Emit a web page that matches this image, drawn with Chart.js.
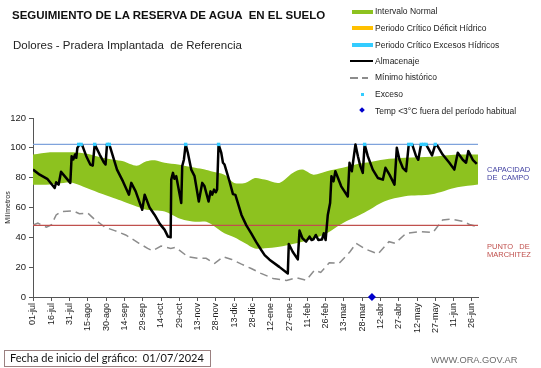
<!DOCTYPE html>
<html>
<head>
<meta charset="utf-8">
<script src="https://cdn.jsdelivr.net/npm/chart.js@4"></script>
<style>
  body { margin: 0; background: #fff; font-family: "Liberation Sans", Arial, sans-serif; }
  #wrap { position: relative; width: 541px; height: 368px; overflow: hidden; }
  #chart { position: absolute; left: 0; top: 0; }
  .txt { position: absolute; white-space: pre; color: #111; }
  .leg { position: absolute; left: 375px; font-size: 8.5px; color: #222; white-space: pre; line-height: 10px; }
  .sym { position: absolute; }
</style>
</head>
<body>
<div id="wrap">
  <canvas id="chart" width="541" height="368"></canvas>

  <div class="txt" style="left:12px; top:9px; font-size:11.5px; font-weight:bold;">SEGUIMIENTO DE LA RESERVA DE AGUA  EN EL SUELO</div>
  <div class="txt" style="left:13px; top:39px; font-size:11.5px; color:#222;">Dolores - Pradera Implantada  de Referencia</div>

  <!-- leyenda -->
  <div class="sym" style="left:352px; top:10px; width:21px; height:4px; background:#8dc21f;"></div>
  <div class="leg" style="top:6px;">Intervalo Normal</div>
  <div class="sym" style="left:352px; top:26px; width:21px; height:4px; background:#ffc000;"></div>
  <div class="leg" style="top:23px;">Periodo Crítico Déficit Hídrico</div>
  <div class="sym" style="left:352px; top:43px; width:21px; height:4px; background:#33ccff;"></div>
  <div class="leg" style="top:40px;">Periodo Crítico Excesos Hídricos</div>
  <div class="sym" style="left:350px; top:60px; width:23px; height:2px; background:#000;"></div>
  <div class="leg" style="top:56px;">Almacenaje</div>
  <div class="sym" style="left:350px; top:77px; width:8px; height:1.5px; background:#8c8c8c;"></div>
  <div class="sym" style="left:362px; top:77px; width:6px; height:1.5px; background:#8c8c8c;"></div>
  <div class="leg" style="top:72px;">Mínimo histórico</div>
  <div class="sym" style="left:361px; top:93px; width:3px; height:3px; background:#33ccff;"></div>
  <div class="leg" style="top:89px;">Exceso</div>
  <div class="sym" style="left:360px; top:108px; width:4px; height:4px; background:#0000cc; transform:rotate(45deg);"></div>
  <div class="leg" style="top:106px;">Temp &lt;3°C fuera del período habitual</div>

  <!-- etiquetas de la derecha -->
  <div class="txt" style="left:487px; top:166px; font-size:7.5px; line-height:8px; color:#3f3fa0;">CAPACIDAD
DE  CAMPO</div>
  <div class="txt" style="left:487px; top:243px; font-size:7.5px; line-height:8px; color:#c0504d;">PUNTO   DE
MARCHITEZ</div>

  <div class="txt" style="left:4px; top:350px; width:207px; height:17px; border:1px solid #9a8080; box-sizing:border-box;"></div>
  <div class="txt" style="left:10px; top:351px; font-size:11px; font-family:Lato, 'Open Sans', sans-serif; color:#111;">Fecha de inicio del gráfico:  01/07/2024</div>
  <div class="txt" style="left:431px; top:355px; font-size:9.3px; color:#6b6b6b;">WWW.ORA.GOV.AR</div>
</div>

<script>
// eje x: días desde 01-jul
const tickDays = [0, 15, 30, 45, 60, 75, 90, 105, 120, 135, 150, 165, 180, 195, 210, 225, 240, 255, 270, 285, 300, 315, 330, 345, 360];
const tickLabels = ['01-jul', '16-jul', '31-jul', '15-ago', '30-ago', '14-sep', '29-sep', '14-oct', '29-oct', '13-nov',
  '28-nov', '13-dic', '28-dic', '12-ene', '27-ene', '11-feb', '26-feb', '13-mar', '28-mar', '12-abr',
  '27-abr', '12-may', '27-may', '11-jun', '26-jun'];

// intervalo normal (banda verde)
const bandDays = [0, 14, 25, 33, 44, 57, 66, 74, 85, 93, 100, 108, 119, 124, 133, 141, 146, 157, 165, 174, 182, 190, 202, 213, 221, 230, 241, 254, 268, 276, 288, 305, 327, 348, 365];
const bandUpper = [95.5, 97, 97, 97, 96, 93.3, 92, 91, 88, 91, 91.7, 90, 88.8, 88, 86.6, 85.5, 84.3, 82, 76.5, 76.5, 79.8, 78.7, 76.5, 83.2, 85.4, 82, 84.3, 86.6, 89.5, 90.4, 92.2, 93.3, 94, 95.5, 95.5];
const bandLower = [75.3, 75.5, 76.5, 76.5, 73.1, 69, 66.3, 64, 60.7, 58.5, 58, 57.3, 53, 51.7, 50.5, 50.6, 49, 42.7, 40, 36, 32.5, 32.6, 33.7, 35.5, 37.1, 39, 42.7, 49.5, 55, 58.5, 64, 67.5, 68.8, 73.5, 75.5];

// mínimo histórico
const minDays = [0, 4, 11, 15, 19, 23, 33, 38, 45, 51, 59, 67, 76, 87, 94, 98, 105, 113, 117, 127, 135, 142, 149, 156, 163, 171, 179, 187, 197, 208, 216, 224, 231, 236, 243, 251, 260, 265, 273, 283, 292, 297, 306, 317, 328, 336, 343, 353, 358, 362, 365];
const minVals = [48.3, 49.5, 46.8, 48.3, 55, 57.3, 57.8, 55.8, 56.2, 51.7, 46.8, 44.5, 41.6, 36, 32.6, 31, 34.2, 32.6, 33.3, 27, 25.9, 25.9, 22.5, 27, 25.2, 22, 19.1, 15.8, 12.4, 11, 13, 11.2, 18, 16.5, 23, 22.5, 30.3, 36, 32, 28.8, 37.1, 36, 42.7, 43.8, 43.2, 51.7, 52.2, 50.6, 48.6, 47.7, 49];

// almacenaje
const storDays = [0, 5.5, 12, 17.8, 19, 21, 23, 27, 30.6, 31.7, 33, 34.5, 35.5, 36.4, 38.3, 40.5, 43.7, 47, 49, 50.6,
  54.7, 58, 59.5, 60.7, 62.6, 68.9, 73.8, 78.7, 80.6, 84.2, 89.6, 91.6, 95.6, 99.8, 104, 108, 110.7, 112.9, 113.4, 114.8,
  116, 117.5, 121.6, 122.4, 123.8, 125.2, 127, 129.8, 132.5, 136, 138.8, 140.7, 144, 145.6, 147, 148.5, 150, 151, 152.2, 154.4,
  155.8, 157.1, 161.2, 164, 166, 171, 175, 179, 183, 187.2, 190, 194, 202, 209, 209.8, 213, 217.2, 218.6, 221, 224,
  226.8, 228.5, 230, 232, 234, 237, 238.5, 240, 241.8, 243.7, 244.8, 246.5, 248, 252.8, 258.2, 259.6, 261.5, 264.5, 266.5, 268.5,
  270.5, 272, 274.6, 278.7, 282.8, 287, 289.1, 292.4, 296.5, 298.4, 300.6, 303.3, 306, 308.2, 311, 314.2, 316, 318.3, 322.4, 327.3,
  330, 332, 336, 341.5, 345.6, 348.4, 352.5, 355.2, 357.1, 360.7, 364];
const storVals = [85.4, 82, 79, 73.1, 76.9, 75.3, 83.9, 80, 76.5, 94.4, 92.2, 95.5, 93.3, 100, 102.3, 101.5, 94.4, 88.8, 88.1, 102.3,
  95.5, 90.4, 88.8, 102.3, 102.3, 85.4, 77.5, 68.6, 76.5, 70.8, 58.5, 68.6, 60, 55, 49, 45, 40.5, 40, 78.7, 83.2,
  79.3, 81, 63, 87.7, 92.2, 102.3, 96.7, 85.4, 81, 64, 76.5, 74.2, 64, 70.8, 68.6, 72, 70.2, 72, 102.3, 96.7,
  90, 88.8, 77.5, 69, 68.5, 55, 48, 42.7, 37, 31.5, 28.1, 25, 20.2, 15.8, 35.5, 30.3, 25.2, 44.5, 39.4, 37.1,
  40.5, 38.2, 38.7, 41.6, 38.2, 38.5, 42.7, 38.2, 55, 63, 81, 77.5, 84.3, 74.2, 67.4, 90, 84.3, 102.3, 94.4, 87.7,
  83.2, 102.3, 94.4, 85.4, 79.8, 78.7, 86.6, 82, 75.3, 100, 92, 86.6, 84.3, 102.3, 102.3, 94.4, 92, 102.3, 102.3, 94.9,
  102.3, 101, 95.5, 90, 85.4, 96.7, 92, 90, 97.8, 92, 89.3];

// excesos y temperatura
const excesoDays = [37.5, 39.5, 50.6, 61, 62.6, 125.2, 152.2, 272, 308.2, 310.5, 318.5, 320.5, 322.4, 330];
const excesoVal = 102.3;
const tempDays = [278];

const capacidad = 102.3;
const marchitez = 48;

const pts = (xs, ys) => xs.map((x, i) => ({ x: x, y: ys[i] }));
const flat = (xs, v) => xs.map(x => ({ x: x, y: v }));

new Chart(document.getElementById('chart').getContext('2d'), {
  type: 'line',
  data: {
    datasets: [
      { data: flat(tempDays, 0), showLine: false, pointStyle: 'rectRot', pointRadius: 4, backgroundColor: '#0000cc', borderWidth: 0, clip: false },
      { data: flat(excesoDays, excesoVal), showLine: false, pointStyle: 'rect', pointRadius: 2.4, backgroundColor: '#33ccff', borderWidth: 0, clip: false },
      { data: pts(storDays, storVals), borderColor: '#000', borderWidth: 2.5, borderJoinStyle: 'round', pointRadius: 0, tension: 0, fill: false },
      { data: flat([0, 365], capacidad), borderColor: '#7fa3dc', borderWidth: 1.2, pointRadius: 0, fill: false },
      { data: flat([0, 365], marchitez), borderColor: '#c0504d', borderWidth: 1.2, pointRadius: 0, fill: false },
      { data: pts(minDays, minVals), borderColor: '#8c8c8c', borderWidth: 1.5, borderDash: [8, 5], pointRadius: 0, fill: false },
      { data: pts(bandDays, bandLower), borderWidth: 0, borderColor: 'rgba(0,0,0,0)', pointRadius: 0, tension: 0.3, fill: false },
      { data: pts(bandDays, bandUpper), borderWidth: 0, borderColor: 'rgba(0,0,0,0)', pointRadius: 0, tension: 0.3, fill: '-1', backgroundColor: '#8dc21f' }
    ]
  },
  options: {
    responsive: false,
    animation: false,
    devicePixelRatio: 1,
    layout: { padding: { top: 118, right: 63, bottom: 31, left: 0 } },
    plugins: {
      legend: { display: false },
      tooltip: { enabled: false },
      filler: { drawTime: 'beforeDatasetsDraw' }
    },
    scales: {
      x: {
        type: 'linear',
        min: 0,
        max: 365,
        afterBuildTicks: (scale) => { scale.ticks = tickDays.map(v => ({ value: v })); },
        afterFit: (scale) => { scale.height = 40; },
        ticks: {
          autoSkip: false,
          maxRotation: 90,
          minRotation: 90,
          padding: 2,
          color: '#222',
          font: { family: 'Liberation Sans', size: 9 },
          callback: (v, i) => tickLabels[i]
        },
        grid: { drawOnChartArea: false, drawTicks: true, tickLength: 4, color: '#555' },
        border: { display: true, color: '#555' }
      },
      y: {
        min: 0,
        max: 120,
        afterFit: (scale) => { scale.width = 33; },
        ticks: {
          stepSize: 20,
          padding: 3,
          color: '#222',
          font: { family: 'Liberation Sans', size: 9.5 }
        },
        title: { display: true, text: 'Milímetros', color: '#222', font: { family: 'Liberation Sans', size: 7 }, padding: { top: 4, bottom: 0 } },
        grid: { drawOnChartArea: false, drawTicks: true, tickLength: 4, color: '#555' },
        border: { display: true, color: '#555' }
      }
    }
  }
});
</script>
</body>
</html>
